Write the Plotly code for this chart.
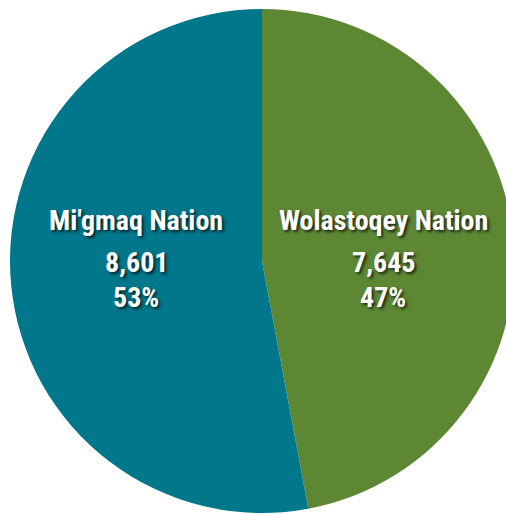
import plotly.graph_objects as go

labels = ["Wolastoqey Nation", "Mi'gmaq Nation"]
values = [7645, 8601]
colors = ["#5E8734", "#00778A"]

W, H = 524, 514
cx, cy, r = 262, 261, 252

fig = go.Figure(go.Pie(
    labels=labels,
    values=values,
    sort=False,
    direction="clockwise",
    rotation=0,
    marker=dict(colors=colors, line=dict(width=0)),
    textinfo="none",
    hoverinfo="label+value+percent",
    domain=dict(x=[(cx - r) / W, (cx + r) / W],
                y=[(H - cy - r) / H, (H - cy + r) / H]),
    showlegend=False,
))

total = sum(values)
label_x = [383, 136]          # pixel centres of each label block
line_y = [220, 262, 297]      # pixel centres of the three lines
font = dict(family="Roboto Condensed, Roboto, sans-serif", size=28, color="white",
            weight="bold", shadow="2px 2px 3px rgba(0,0,0,0.7)")
for lab, val, lx in zip(labels, values, label_x):
    lines = [lab, f"{val:,}", f"{round(100 * val / total)}%"]
    for txt, ly in zip(lines, line_y):
        fig.add_annotation(x=lx / W, y=1 - ly / H, xref="paper", yref="paper",
                           xanchor="center", yanchor="middle", showarrow=False,
                           text=f"<b>{txt}</b>", font=font)

fig.update_layout(
    width=W, height=H,
    margin=dict(l=0, r=0, t=0, b=0),
    paper_bgcolor="white",
    plot_bgcolor="white",
    showlegend=False,
)

fig.write_html("out.html", config={"displayModeBar": False},
               post_script="document.body.style.margin='0';document.body.style.overflow='hidden';")
